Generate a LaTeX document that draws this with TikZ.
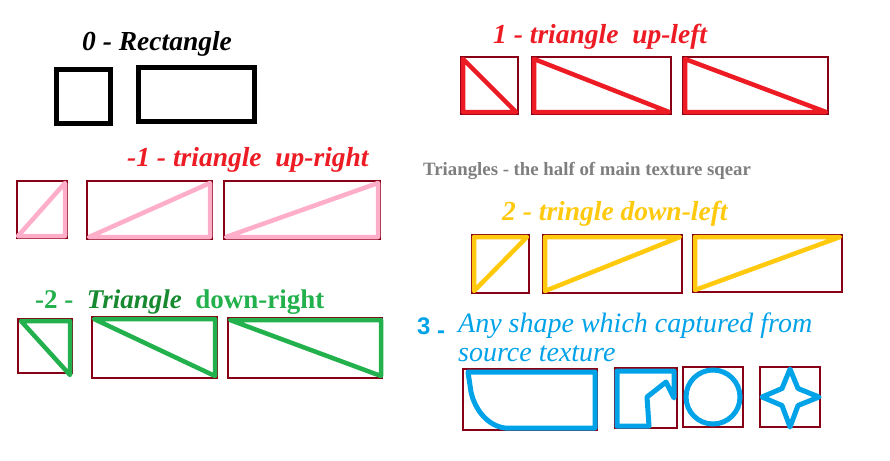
\documentclass[tikz,border=0pt]{standalone}
\usepackage{fontspec}
\setmainfont{Liberation Serif}
\newfontfamily\sansf{Liberation Sans}
\definecolor{boxred}{HTML}{880015}
\definecolor{pinkc}{HTML}{FFAEC9}
\definecolor{redc}{HTML}{ED1C24}
\definecolor{greenc}{HTML}{22B14C}
\definecolor{dgreenc}{HTML}{178A30}
\definecolor{yellowc}{HTML}{FFC90E}
\definecolor{bluec}{HTML}{00A2E8}
\definecolor{grayc}{HTML}{7F7F7F}
\begin{document}
\begin{tikzpicture}[x=1pt,y=-1pt,
  frame/.style={draw=boxred,line width=1.3pt},
  blackbox/.style={draw=black,line width=5pt},
  tri/.style={line width=4.5pt,line join=round},
  shp/.style={draw=bluec,line width=5pt,line join=round},
  title/.style={anchor=base west,inner sep=0pt,font=\fontsize{27.5}{30}\selectfont\bfseries\itshape}]
\useasboundingbox[fill=white] (0,0) rectangle (890,460);

% --- 0 - Rectangle
\node[title,text=black] (t0) at (82,50) {0 - Rectangle};
\draw[blackbox] (56.5,69.5) rectangle (110.5,123.5);
\draw[blackbox] (138.5,67.5) rectangle (254.5,121.5);

% --- -1 - triangle up-right
\node[title,text=redc] (tm1) at (127,166) {-1 - triangle\ \ up-right};
\draw[frame] (17,181) rectangle (67,238);
\draw[frame] (87,181) rectangle (212,239);
\draw[frame] (224,181) rectangle (380,239);
\draw[tri,draw=pinkc] (18,236) -- (65,236) -- (65,183) -- cycle;
\draw[tri,draw=pinkc] (89,237) -- (210,237) -- (210,183) -- cycle;
\draw[tri,draw=pinkc] (226,237) -- (378,237) -- (378,183) -- cycle;

% --- -2 - Triangle down-right
\node[anchor=base west,inner sep=0pt,font=\fontsize{27}{30}\selectfont\bfseries] (tm2) at (35,308)
  {\textcolor{greenc}{-2 -\ \ }\textcolor{dgreenc}{\itshape Triangle}\textcolor{greenc}{\ \ down-right}};
\draw[frame] (18,319) rectangle (72,373);
\draw[frame] (92,317) rectangle (217,378);
\draw[frame] (228,318) rectangle (382,378);
\draw[tri,draw=greenc] (21,321) -- (70,321) -- (70,375) -- cycle;
\draw[tri,draw=greenc] (94,319) -- (215,319) -- (215,376) -- cycle;
\draw[tri,draw=greenc] (230,320) -- (381,320) -- (381,376) -- cycle;

% --- 1 - triangle up-left
\node[title,text=redc] (t1) at (493,44) {1 - triangle\ \ up-left};
\draw[frame] (461,57) rectangle (518,114);
\draw[frame] (532,57) rectangle (671,114);
\draw[frame] (683,57) rectangle (828,114);
\draw[tri,draw=redc] (463,59) -- (463,112) -- (516,112) -- cycle;
\draw[tri,draw=redc] (534,59) -- (534,112) -- (669,112) -- cycle;
\draw[tri,draw=redc] (685,59) -- (685,112) -- (826,112) -- cycle;

% --- note
\node[anchor=base west,inner sep=0pt,text=grayc,font=\fontsize{18.8}{22}\selectfont\bfseries] (note) at (423,175)
  {Triangles - the half of main texture sqear};

% --- 2 - tringle down-left
\node[title,text=yellowc] (t2) at (502,220) {2 - tringle down-left};
\draw[frame] (472,235) rectangle (529,293);
\draw[frame] (543,235) rectangle (682,293);
\draw[frame] (693,235) rectangle (842,292);
\draw[tri,draw=yellowc] (474,237) -- (527,237) -- (474,291) -- cycle;
\draw[tri,draw=yellowc] (545,237) -- (680,237) -- (545,291) -- cycle;
\draw[tri,draw=yellowc] (695,237) -- (840,237) -- (695,290) -- cycle;

% --- 3 - Any shape
\node[anchor=base west,inner sep=0pt,text=bluec,font=\sansf\fontsize{24}{26}\selectfont\bfseries] (t3) at (417,334)
  {3 \raisebox{-4pt}{-}};
\node[anchor=base west,inner sep=0pt,text=bluec,font=\fontsize{28}{30}\selectfont\itshape] (t3a) at (458,332)
  {Any shape which captured from};
\node[anchor=base west,inner sep=0pt,text=bluec,font=\fontsize{28}{30}\selectfont\itshape] (t3b) at (458,361)
  {source texture};
\draw[frame] (463,369) rectangle (597,430);
\draw[frame] (615,368) rectangle (677,428);
\draw[frame] (683,367) rectangle (743,427);
\draw[frame] (760,367) rectangle (820,427);
\draw[shp] (468,372) -- (595,372) -- (595,428) -- (505,428)
  .. controls (488,426) and (475,410) .. (471,392) -- cycle;
\draw[shp] (617,371) -- (674,371) -- (674,398) -- (666,382) -- (647,397) -- (649,426) -- (617,426) -- cycle;
\draw[shp] (713,397) circle (27);
\draw[shp] (790,369) -- (798,388.5) -- (819,397) -- (798,405.5) -- (790,427) -- (782,405.5) -- (762,397) -- (782,388.5) -- cycle;
\end{tikzpicture}
\end{document}
